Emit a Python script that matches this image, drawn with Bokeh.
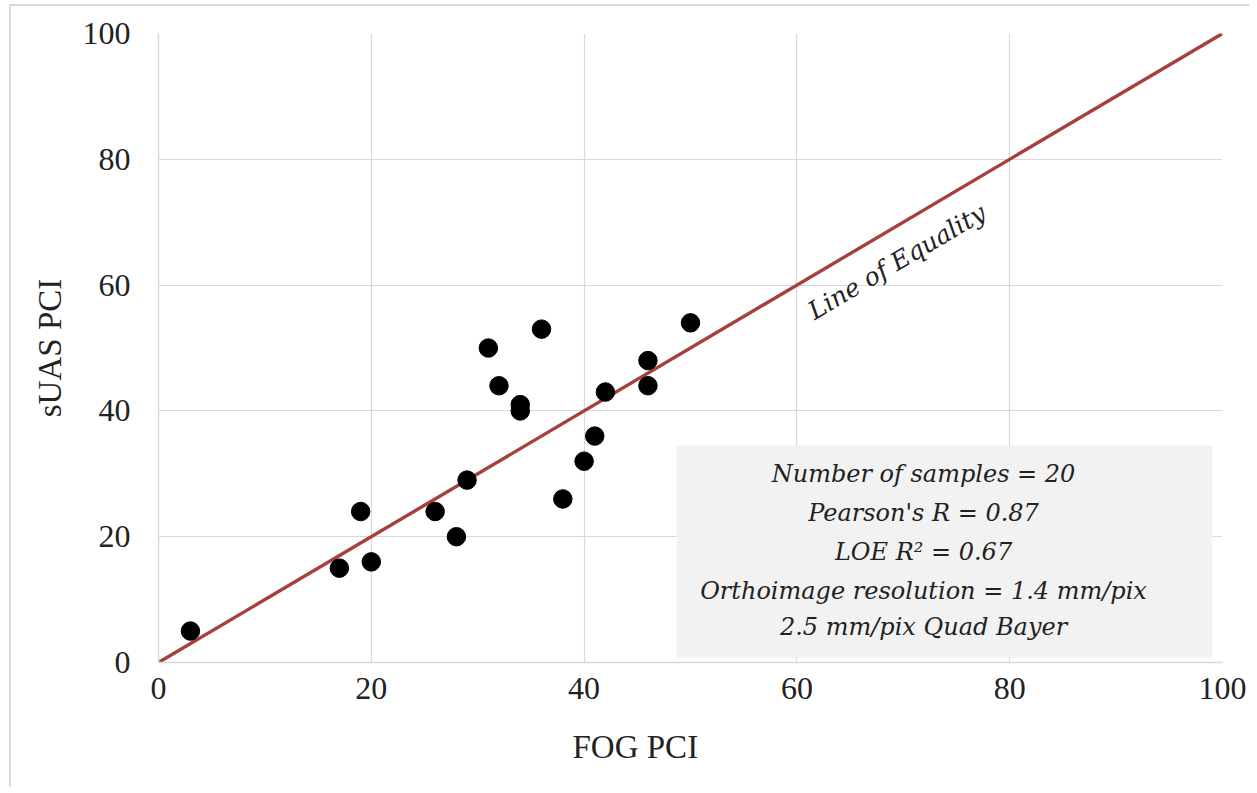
from bokeh.plotting import figure
from bokeh.models import Label, BoxAnnotation, FixedTicker, Range1d, Title
from bokeh.embed import file_html
from bokeh.resources import INLINE
import math

fog_pci = [3, 17, 19, 20, 26, 28, 29, 31, 32, 34, 34, 36, 38, 40, 41, 42, 46, 46, 50]
suas_pci = [5, 15, 24, 16, 24, 20, 29, 50, 44, 41, 40, 53, 26, 32, 36, 43, 48, 44, 54]
loe_x = [0, 100]
loe_y = [0, 100]
ticks = [0, 20, 40, 60, 80, 100]
stats_lines = [
    "Number of samples = 20",
    "Pearson's R = 0.87",
    "LOE R\u00b2 = 0.67",
    "Orthoimage resolution = 1.4 mm/pix",
    "2.5 mm/pix Quad Bayer",
]

FONT = "Liberation Serif"
MATH = "DejaVu Serif"

p = figure(width=1240, height=783, output_backend="svg", toolbar_location=None,
           x_range=Range1d(0, 100), y_range=Range1d(0, 100),
           min_border_left=147, min_border_right=29, min_border_top=27, min_border_bottom=127)
p.styles = {"border-left": "2px solid #d9d9d9", "border-top": "2px solid #d9d9d9",
            "margin-left": "9px", "margin-top": "4px"}
p.outline_line_color = None

for ax in (p.xaxis[0], p.yaxis[0]):
    ax.ticker = FixedTicker(ticks=ticks)
    ax.major_tick_line_color = None
    ax.minor_tick_line_color = None
    ax.axis_line_color = "#d9d9d9"
    ax.axis_line_width = 1.5
    ax.major_label_text_font = FONT
    ax.major_label_text_font_size = "32px"
    ax.major_label_text_color = "#222222"
p.xaxis.major_label_standoff = 9
p.yaxis.major_label_standoff = 22

p.yaxis.axis_label = "sUAS PCI"
p.yaxis.axis_label_text_font = FONT
p.yaxis.axis_label_text_font_size = "33px"
p.yaxis.axis_label_text_font_style = "normal"
p.yaxis.axis_label_text_color = "#222222"
p.yaxis.axis_label_standoff = 12

p.add_layout(Title(text="FOG PCI", align="left", offset=414, text_font=FONT,
                   text_font_size="33px", text_font_style="normal", text_color="#222222",
                   standoff=50), "below")

p.grid.grid_line_color = "#d9d9d9"
p.grid.grid_line_width = 1.2
p.xgrid.ticker = FixedTicker(ticks=ticks)
p.ygrid.ticker = FixedTicker(ticks=ticks)

# stats box
p.add_layout(BoxAnnotation(left=48.7, right=99.06, bottom=0.8, top=34.5,
                           fill_color="#f2f2f2", fill_alpha=1.0, line_color=None, level="underlay"))

p.line(loe_x, loe_y, line_color="#a5403c", line_width=3.4)
p.scatter(fog_pci, suas_pci, size=18.5, color="black")

ang = math.atan2(629, 1064)
p.add_layout(Label(x=69.4, y=63.7, text="Line of Equality", angle=ang,
                   text_align="center", text_baseline="middle",
                   text_font=MATH, text_font_style="italic", text_font_size="25px",
                   text_color="#222222"))

ys = [29.9, 23.7, 17.5, 11.4, 5.6]
for t, yy in zip(stats_lines, ys):
    p.add_layout(Label(x=71.9, y=yy, text=t, text_align="center", text_baseline="middle",
                       text_font=MATH, text_font_style="italic", text_font_size="24px",
                       text_color="#222222"))

open("out.html", "w").write(file_html(p, INLINE))
